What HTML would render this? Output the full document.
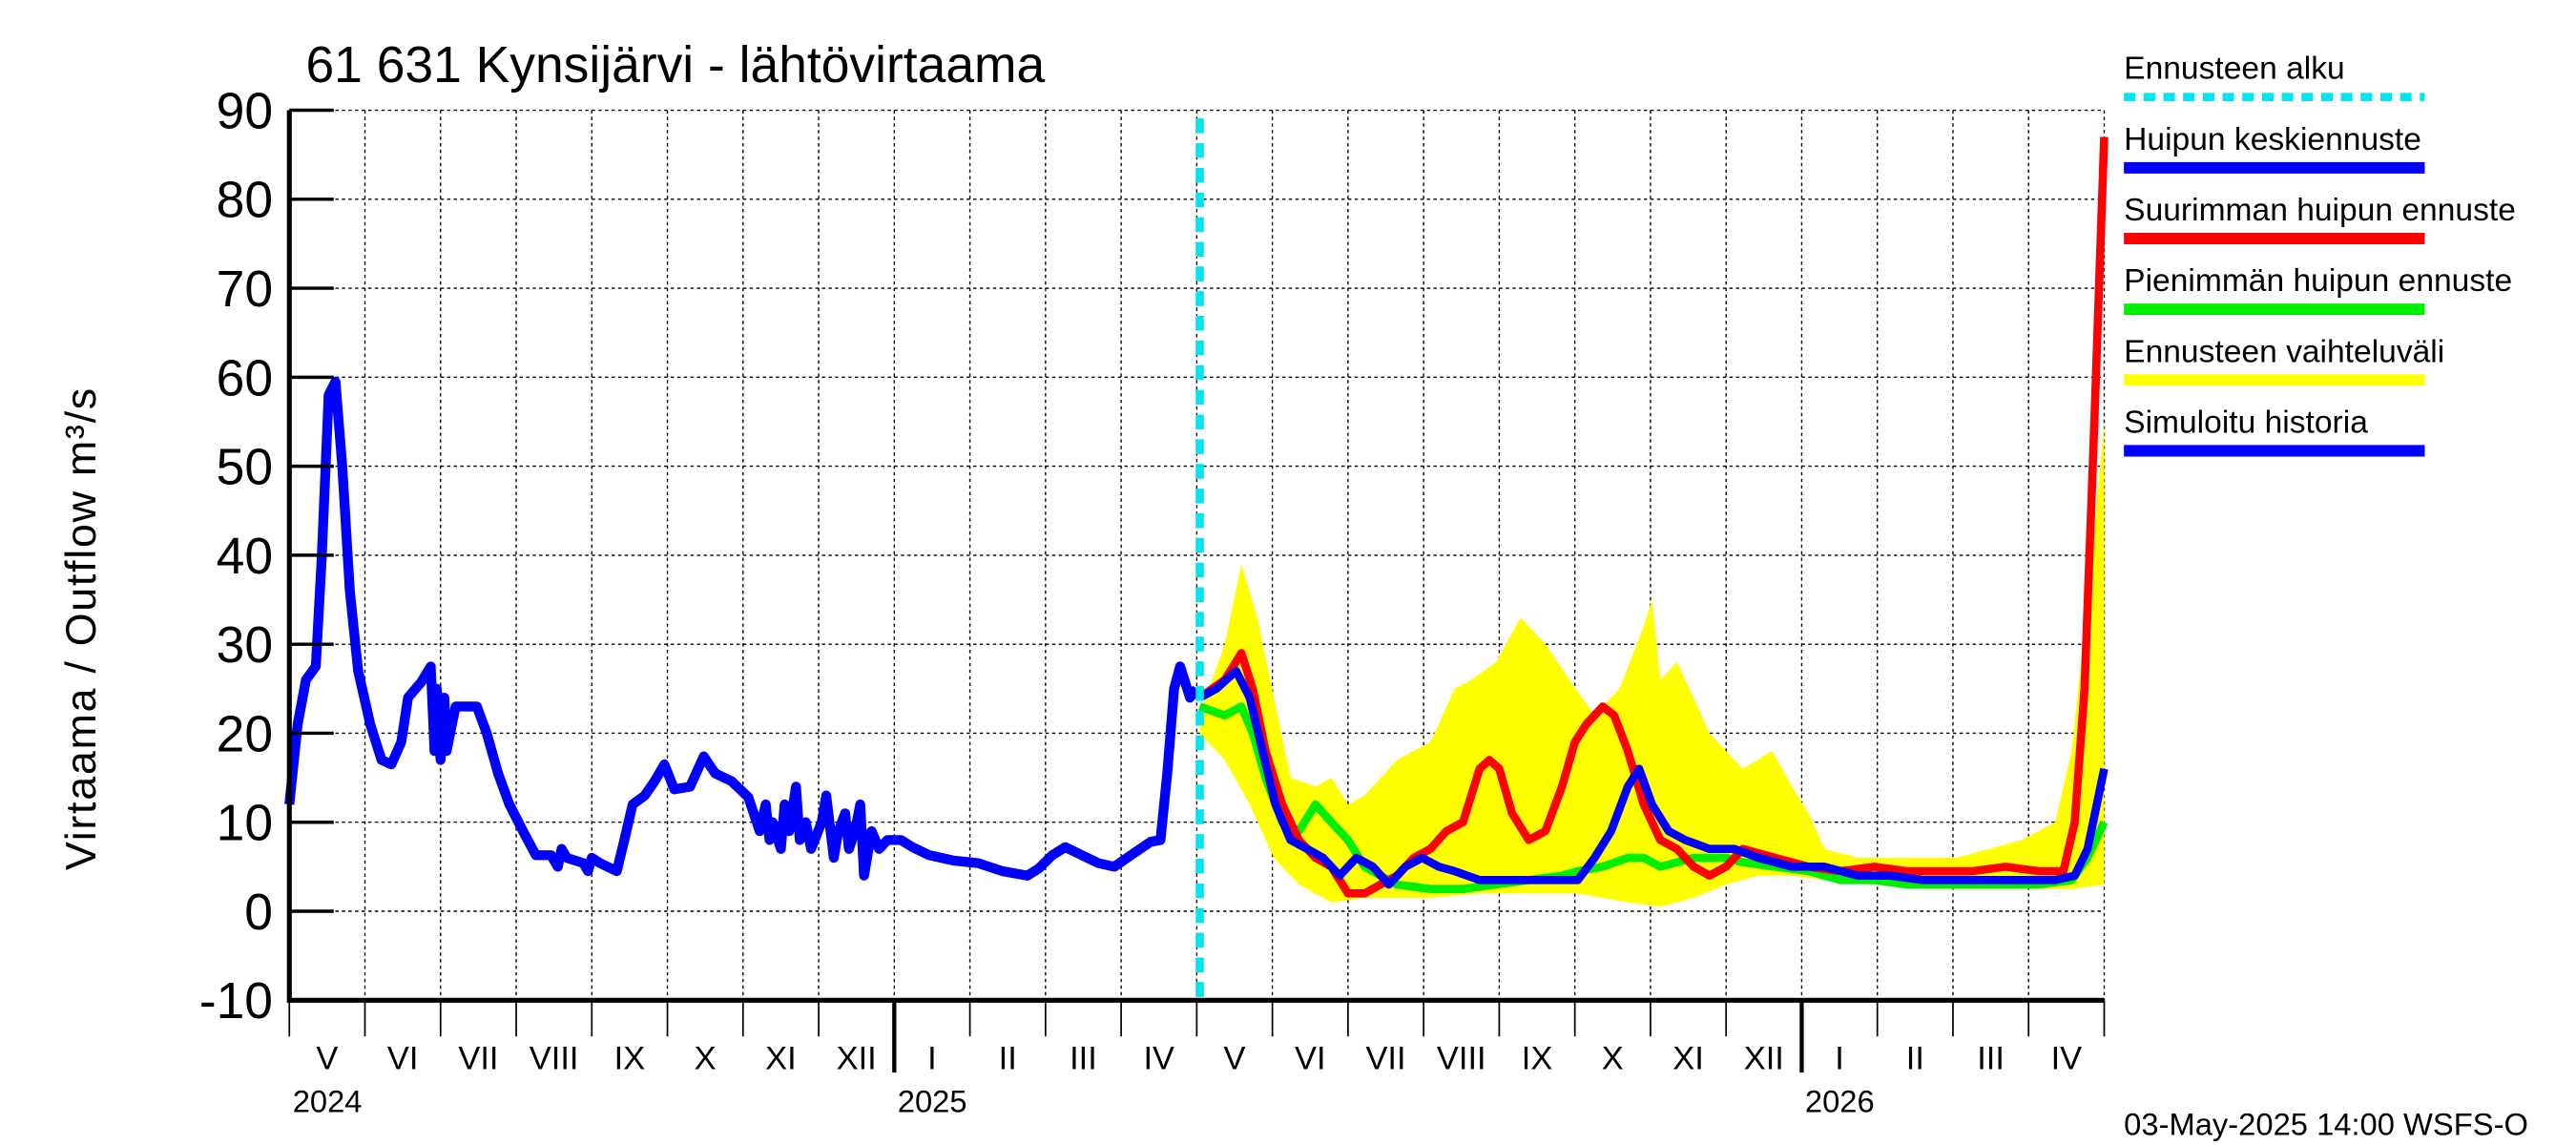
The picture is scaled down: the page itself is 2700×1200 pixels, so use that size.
<!DOCTYPE html>
<html><head><meta charset="utf-8"><style>
html,body{margin:0;padding:0;background:#fff;}
svg{display:block;font-family:"Liberation Sans",sans-serif;}
</style></head><body>
<svg id="chart" width="2700" height="1200" viewBox="0 0 1567 696" preserveAspectRatio="none" xmlns="http://www.w3.org/2000/svg">
<rect width="1567" height="696" fill="#fff"/>
<text x="186" y="50" font-size="31">61 631 Kynsijärvi - lähtövirtaama</text>
<text transform="translate(58,382) rotate(-90)" text-anchor="middle" font-size="26" letter-spacing="1">Virtaama / Outflow    m³/s</text>
<g id="grid"></g><g id="bands"></g><g id="series"></g><g id="axes"></g><g id="legend"></g>
<text x="1292" y="690" font-size="19">03-May-2025 14:00 WSFS-O</text>
</svg>
<script>
const yTicks=[-10,0,10,20,30,40,50,60,70,80,90];
const monthLabels=["V","VI","VII","VIII","IX","X","XI","XII","I","II","III","IV","V","VI","VII","VIII","IX","X","XI","XII","I","II","III","IV"];
const yearLabels=[["2024",0],["2025",8],["2026",20]];
const forecastStart=12.04;
const histT=[0,.11,.22,.35,.43,.52,.61,.70,.80,.91,1.07,1.22,1.35,1.48,1.57,1.74,1.87,1.92,1.95,2.0,2.05,2.08,2.15,2.2,2.3,2.48,2.61,2.76,2.91,3.09,3.26,3.46,3.55,3.6,3.67,3.89,3.95,4.0,4.11,4.33,4.43,4.54,4.70,4.83,4.96,5.09,5.30,5.48,5.63,5.85,6.07,6.22,6.3,6.35,6.39,6.5,6.55,6.61,6.7,6.75,6.83,6.9,7.04,7.1,7.2,7.26,7.35,7.4,7.48,7.55,7.6,7.70,7.8,7.91,8.09,8.24,8.46,8.78,9.11,9.43,9.76,9.91,10.09,10.26,10.48,10.70,10.91,11.13,11.39,11.52,11.61,11.70,11.78,11.91,12.0];
const histV=[12,21,26,27.5,40,58,59.5,50,36,27,21,17,16.5,19,24,25.7,27.5,18,25,17,24,18,21,23,23,23,20,15.5,12,9,6.3,6.3,5,7,6,5.4,4.5,6,5.4,4.5,8,12,13,14.6,16.5,13.7,14,17.4,15.5,14.6,12.8,9,12,8,10,7,12,9,14,8,10,7,10,13,6,9,11,7,9,12,4,9,7,8,8,7.2,6.3,5.7,5.4,4.5,4,4.8,6.3,7.2,6.3,5.4,5,6.3,7.8,8,15.5,25,27.5,24,25];
const fT=[12.04,12.26,12.52,12.7,12.87,13.04,13.24,13.46,13.67,13.89,14.11,14.33,14.54,14.76,14.98,15.2,15.41,15.74,16.17,16.61,17.04,17.26,17.48,17.7,17.85,18.02,18.24,18.46,18.78,19.11,19.43,19.87,20.3,20.74,21.17,21.61,22.04,22.48,22.91,23.35,23.61,23.78,24.0];
const meanV=[24,25,27,24,18,12,8,7,6,4,6,5,3,5,6,5,4.5,3.5,3.5,3.5,3.5,6,9,14,16,12,9,8,7,7,6,5,5,4,4,3.5,3.5,3.5,3.5,3.5,4,7,16];
const maxT=[12.04,12.37,12.59,12.74,12.91,13.13,13.35,13.57,13.78,14.0,14.22,14.43,14.65,14.87,15.09,15.3,15.52,15.74,15.87,16.0,16.17,16.39,16.61,16.83,17.0,17.15,17.37,17.52,17.7,17.91,18.13,18.35,18.57,18.78,19.0,19.22,19.65,20.09,20.52,20.96,21.39,21.83,22.26,22.7,23.13,23.46,23.61,23.74,23.87,24.0];
const maxV=[24,26,29,25,18,12,8,6,5,2,2,3,4,6,7,9,10,16,17,16,11,8,9,14,19,21,23,22,18,12,8,7,5,4,5,7,6,5,4.5,5,4.5,4.5,4.5,5,4.5,4.5,10,25,55,87];
const minT=[12.04,12.37,12.59,12.74,12.91,13.13,13.35,13.57,13.78,14.0,14.22,14.43,14.65,15.09,15.52,15.96,16.39,16.83,17.04,17.37,17.7,17.91,18.13,18.57,19.0,19.22,19.65,20.09,20.52,20.96,21.39,21.83,22.26,22.7,23.13,23.57,23.78,24.0];
const minV=[23,22,23,20,15,10,9,12,10,8,5,4,3,2.5,2.5,3,3.5,4,4.5,5,6,6,5,6,6,5.5,5,4.5,3.5,3.5,3,3,3,3,3,3.5,6,10];
const bandT=[12.04,12.37,12.59,12.8,13.02,13.24,13.57,13.78,14.0,14.22,14.65,15.09,15.41,15.63,15.96,16.28,16.61,16.93,17.26,17.59,17.91,18.02,18.13,18.35,18.57,18.78,19.22,19.61,19.87,20.09,20.3,20.74,21.39,22.04,22.48,22.91,23.35,23.57,23.78,24.0];
const bandHi=[22,30,39,33,24,15,14,15,12,13,17,19,25,26,28,33,30,26,22,25,32,35,26,28,24,20,16,18,14,11,7,6,6,6,7,8,10,18,35,55];
const bandLoT=[12.04,12.37,12.7,13.02,13.35,13.78,14.22,14.65,15.09,15.74,16.39,17.04,17.7,18.13,18.57,19.0,19.43,19.87,20.3,20.96,21.61,22.26,22.91,23.57,24.0];
const bandLo=[20,17,12,6,3,1,1.5,1.5,1.5,2,2,2,1,0.5,1.5,3,4,4,3.5,3,2.5,2.5,2.5,2.5,3];

const X0=176,X1=1280,Y0=608,Y1=67;
const sx=t=>X0+t*(X1-X0)/24;
const sy=v=>Y0-(v+10)*(Y0-Y1)/100;
const NS="http://www.w3.org/2000/svg";
function mk(tag,parent,attrs){const e=document.createElementNS(NS,tag);for(const k in attrs)e.setAttribute(k,attrs[k]);document.getElementById(parent).appendChild(e);return e;}
yTicks.forEach(v=>{
 const g=mk('line','grid',{x1:X0,x2:X1,y1:sy(v),y2:sy(v),stroke:'#000','stroke-width':0.8,'stroke-dasharray':'2,2'});
 
 
 const tk=mk('line','axes',{x1:X0,x2:X0+27,y1:sy(v),y2:sy(v),stroke:'#000','stroke-width':2});
 
 
 const tl=mk('text','axes',{x:166,y:sy(v)+11,'text-anchor':'end','font-size':31});
 tl.textContent=v;
 
 
});
for(let m=0;m<=24;m++){
 const isYear=(m===8||m===20);
 const g=mk('line','grid',{x1:sx(m),x2:sx(m),y1:Y1,y2:Y0,stroke:'#000','stroke-width':0.8,'stroke-dasharray':'2,2'});
 
 
 const tk=mk('line','axes',{x1:sx(m),x2:sx(m),y1:Y0,y2:isYear?652:630,stroke:'#000','stroke-width':isYear?2.5:1});
 
 
}
monthLabels.forEach((l,i)=>{
 const t=mk('text','axes',{x:sx(i+0.5),y:650,'text-anchor':'middle','font-size':20});
 t.textContent=l;
 
 
});
yearLabels.forEach(([l,m])=>{
 const t=mk('text','axes',{x:sx(m)+2,y:676,'font-size':19});
 t.textContent=l;
 
 
});
const ax=mk('path','axes',{d:`M${X0} ${Y1} V${Y0} H${X1}`,fill:'none',stroke:'#000','stroke-width':3});


let d='M'+bandT.map((t,i)=>sx(t)+' '+sy(bandHi[i])).join(' L');
for(let i=bandLoT.length-1;i>=0;i--)d+=' L'+sx(bandLoT[i])+' '+sy(bandLo[i]);
const band=mk('path','bands',{d:d+'Z',fill:'#ffff00'});


function line(T,V,color,name,w){
 const p=mk('polyline','series',{points:T.map((t,i)=>sx(t)+','+sy(V[i])).join(' '),fill:'none',stroke:color,'stroke-width':w,'stroke-linejoin':'round'});
 
 
}
line(minT,minV,'#00ee00','min-peak-forecast-line',5);
line(maxT,maxV,'#ff0000','max-peak-forecast-line',5);
line(fT,meanV,'#0000ff','mean-peak-forecast-line',5);
line(histT,histV,'#0000ff','simulated-history-line',6);
const fs=mk('line','series',{x1:sx(forecastStart),x2:sx(forecastStart),y1:Y1+5,y2:Y0,stroke:'#00e5ee','stroke-width':5,'stroke-dasharray':'9,6'});


const leg=[["Ennusteen alku","#00e5ee",true],["Huipun keskiennuste","#0000ff"],["Suurimman huipun ennuste","#ff0000"],["Pienimmän huipun ennuste","#00ee00"],["Ennusteen vaihteluväli","#ffff00"],["Simuloitu historia","#0000ff"]];
leg.forEach(([l,c,dash],i)=>{
 const y=48+i*43;
 const t=mk('text','legend',{x:1292,y:y,'font-size':19.5});
 t.textContent=l;
 
 
 const s=mk('line','legend',{x1:1292,x2:1475,y1:y+11,y2:y+11,stroke:c,'stroke-width':dash?5:7});
 if(dash)s.setAttribute('stroke-dasharray','7,5');
 
 
});
</script>
</body></html>
